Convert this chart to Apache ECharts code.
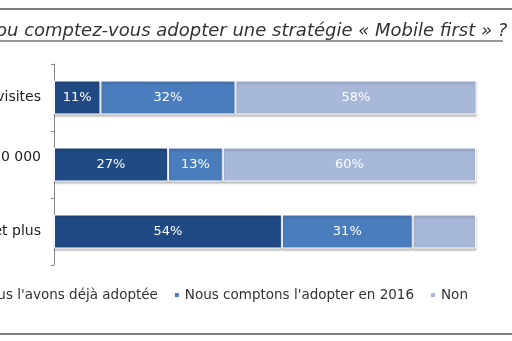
<!DOCTYPE html>
<html><head><meta charset="utf-8">
<script src="https://cdn.jsdelivr.net/npm/echarts@6/dist/echarts.min.js"></script>
<style>html,body{margin:0;padding:0;background:#fff}#c{width:512px;height:341px}</style>
</head><body><div id="c"></div>
<script>
const categories = ['visites', '00 000', 'et plus'];
const seriesNames = ["Nous l'avons déjà adoptée", "Nous comptons l'adopter en 2016", 'Non'];
const adoptee = [11, 27, 54];
const en2016 = [32, 13, 31];
const non = [58, 60, 15];
const showNonLabel = [true, true, false];
const colors = ['#1f4a84', '#4a7dbd', '#a7b8d8'];

const FONT = 'DejaVu Sans';
const chart = echarts.init(document.getElementById('c'), null, {renderer: 'canvas'});
function mk(name, vals, color, showFlags) {
  return {
    name: name, type: 'bar', stack: 'a', barWidth: 34,
    itemStyle: {color: color, borderColor: '#ffffff', borderWidth: 1,
      shadowColor: 'rgba(0,0,0,0.25)', shadowBlur: 2, shadowOffsetY: 2},
    label: {show: true, position: 'inside', color: '#ffffff', fontSize: 13,
      fontFamily: FONT, formatter: '{c}%'},
    data: vals.map((v, i) => (showFlags && !showFlags[i]) ? {value: v, label: {show: false}} : v)
  };
}
chart.setOption({
  animation: false,
  title: {
    text: 'ou comptez-vous adopter une stratégie « Mobile first » ?',
    left: -4, top: 22, padding: 0,
    textStyle: {fontFamily: FONT, fontStyle: 'italic', fontWeight: 'normal', fontSize: 18, color: '#333333'}
  },
  legend: {
    data: seriesNames, left: -38, top: 283, itemWidth: 6, itemHeight: 6, itemGap: 15,
    icon: 'rect',
    textStyle: {fontFamily: FONT, fontSize: 13.5, color: '#333333'}
  },
  grid: {left: 54, right: 36, top: 64, height: 201, outerBoundsMode: 'none', containLabel: false},
  xAxis: {type: 'value', min: 0, max: 100, show: false},
  yAxis: {
    type: 'category', inverse: true,
    data: categories.map((c, i) => i === 1 ? {value: c, textStyle: {verticalAlign: 'bottom', padding: [0, 0, 0, 0]}} : c),
    axisLine: {lineStyle: {color: '#888888', width: 1}},
    axisTick: {show: true, length: 3, lineStyle: {color: '#888888'}},
    axisLabel: {margin: 13, fontFamily: FONT, fontSize: 14, color: '#222222'}
  },
  series: [mk(seriesNames[0], adoptee, colors[0]), mk(seriesNames[1], en2016, colors[1]), mk(seriesNames[2], non, colors[2], showNonLabel)],
  graphic: [
    {type: 'line', shape: {x1: 0, y1: 9, x2: 512, y2: 9}, style: {stroke: '#555555', lineWidth: 1.5}},
    {type: 'line', shape: {x1: 0, y1: 41, x2: 503, y2: 41}, style: {stroke: '#333333', lineWidth: 1}},
    {type: 'line', shape: {x1: 0, y1: 334, x2: 512, y2: 334}, style: {stroke: '#555555', lineWidth: 1.5}}
  ]
});
</script></body></html>
